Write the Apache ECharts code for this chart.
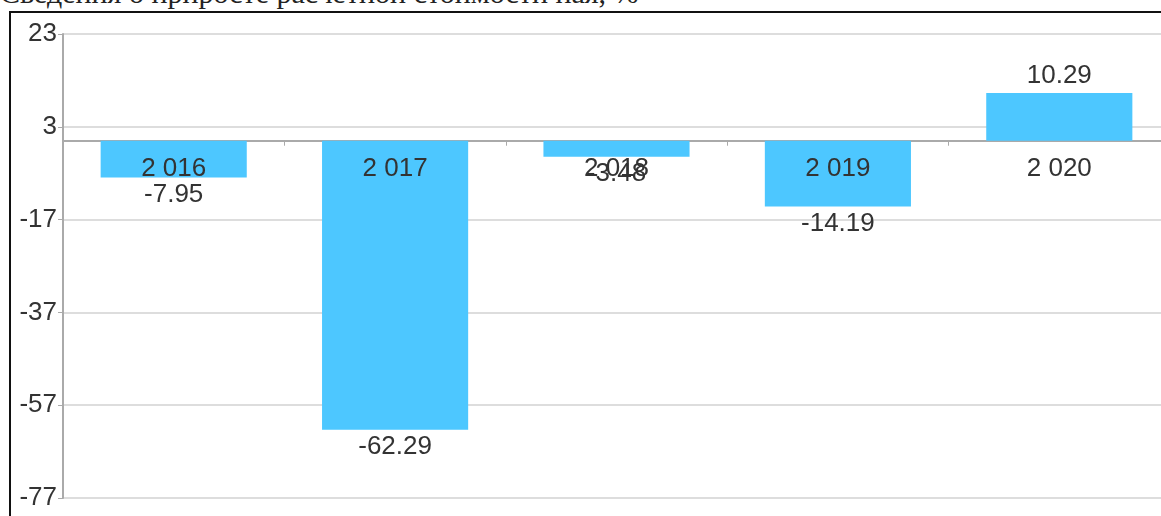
<!DOCTYPE html>
<html>
<head>
<meta charset="utf-8">
<script src="https://cdn.jsdelivr.net/npm/echarts@6/dist/echarts.min.js"></script>
<style>
html,body{margin:0;padding:0;width:1161px;height:516px;overflow:hidden;background:#fff;}
#title{position:absolute;left:0;top:-24px;font-family:"Liberation Serif","DejaVu Serif",serif;font-size:30px;color:#222;white-space:nowrap;line-height:33px;}
#box{position:absolute;left:9px;top:11px;width:1200px;height:600px;border:2px solid #111;box-sizing:border-box;background:#fff;}
#chart{position:absolute;left:0;top:0;width:1161px;height:516px;}
</style>
</head>
<body>
<div id="title">Сведения о приросте расчетной стоимости пая, %</div>
<div id="box"></div>
<div id="chart"></div>
<script>
const categories = [2016, 2017, 2018, 2019, 2020];
const values = [-7.95, -62.29, -3.48, -14.19, 10.29];
const yTicks = [-77, -57, -37, -17, 3, 23];

function fmtYear(v){ const s = String(v); return s.length > 3 ? s.slice(0, s.length-3) + ' ' + s.slice(-3) : s; }

const chart = echarts.init(document.getElementById('chart'), null, {renderer:'canvas'});
chart.setOption({
  animation:false,
  textStyle:{fontFamily:'"Liberation Sans", Arial, sans-serif'},
  grid:{left:63, top:34, bottom:18, right:-9, containLabel:false, outerBoundsMode:'none'},
  xAxis:{
    type:'category',
    data:categories.map(String),
    axisLine:{onZero:true, lineStyle:{color:'#aaaaaa', width:2}},
    axisTick:{show:true, length:5, lineStyle:{color:'#aaaaaa'}},
    axisLabel:{show:false},
    splitLine:{show:false}
  },
  yAxis:{
    type:'value',
    min:yTicks[0], max:yTicks[yTicks.length-1], interval:20,
    axisLine:{show:true, lineStyle:{color:'#aaaaaa', width:2}},
    axisTick:{show:true, length:5, lineStyle:{color:'#aaaaaa'}},
    axisLabel:{color:'#333', fontSize:26, margin:6},
    splitLine:{lineStyle:{color:'#dddddd', width:2}}
  },
  series:[{
    type:'bar',
    barCategoryGap:'34%',
    itemStyle:{color:'#4dc7ff'},
    data:values.map(v=>({value:v, label:{position: v<0 ? 'bottom':'top'}})),
    label:{show:true, color:'#333', fontSize:26, distance:4, formatter:(p)=>String(p.value)}
  },{
    type:'bar',
    barGap:'-100%',
    barCategoryGap:'34%',
    silent:true,
    itemStyle:{color:'rgba(0,0,0,0)'},
    data:categories.map(()=>0),
    z:5,
    label:{show:true, position:'bottom', distance:15, color:'#333', fontSize:26, formatter:(p)=>fmtYear(p.name)}
  }]
});
</script>
</body>
</html>
